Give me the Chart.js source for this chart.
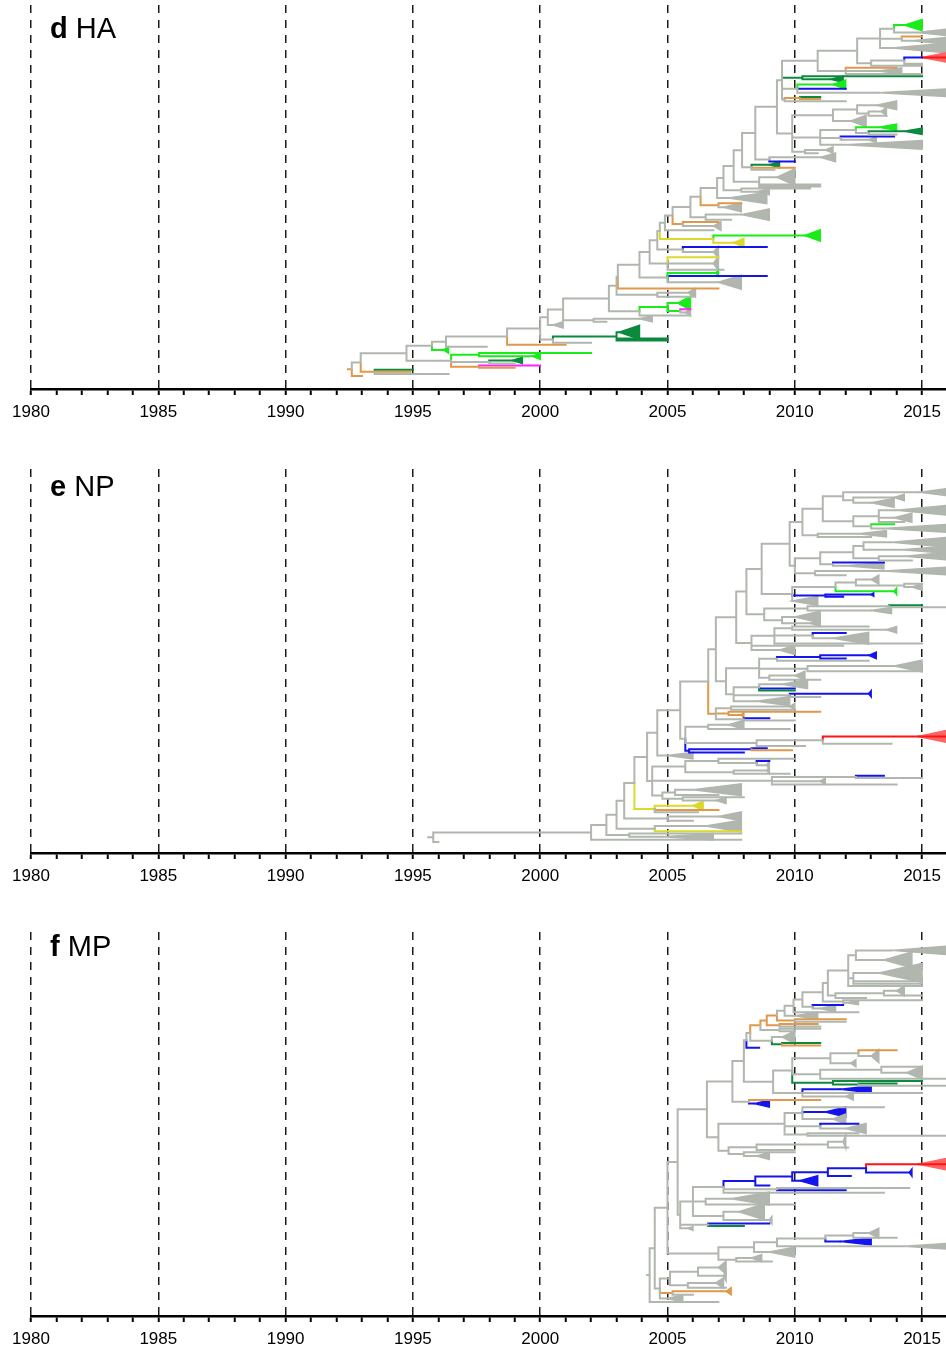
<!DOCTYPE html>
<html>
<head>
<meta charset="utf-8">
<script src="https://cdn.jsdelivr.net/npm/chart.js@4.4.1/dist/chart.umd.min.js"></script>
<style>
  html, body { margin: 0; padding: 0; background: #fff; }
  #page { position: relative; width: 946px; height: 1352px; overflow: hidden; }
  .panel { position: absolute; left: 0; width: 946px; }
  .panel canvas { display: block; }
  .tag { position: absolute; left: 50px; font-family: 'Liberation Sans', Arial, sans-serif;
         font-size: 29px; line-height: 1; color: #000; white-space: nowrap; }
  .tag b { font-weight: bold; }
</style>
</head>
<body>
<div id="page">
  <div class="panel" style="top:0px;height:464px">
    <canvas id="chartHA" width="946" height="464"></canvas>
    <div class="tag" style="top:14px"><b>d</b> HA</div>
  </div>
  <div class="panel" style="top:464px;height:463px">
    <canvas id="chartNP" width="946" height="463"></canvas>
    <div class="tag" style="top:8px"><b>e</b> NP</div>
  </div>
  <div class="panel" style="top:927px;height:425px">
    <canvas id="chartMP" width="946" height="425"></canvas>
    <div class="tag" style="top:5px"><b>f</b> MP</div>
  </div>
</div>
<script>
// Time axis
const axisMin = 1980;
const axisMax = 2015.94;
const labeledYears = [1980, 1985, 1990, 1995, 2000, 2005, 2010, 2015];

// Branch colours by lineage key
const lineageColours = {
  g: '#b1b6ae', o: '#e0984a', y: '#d9d92e', G: '#19ec19',
  D: '#0b8a3e', m: '#ff25ff', b: '#1414ee', r: '#ff1414'
};
const wedgeFills = {
  g: '#b1b6ae', o: '#e0984a', y: '#d9d92e', G: '#19ec19',
  D: '#0b8a3e', m: '#ff25ff', b: '#1414ee', r: '#ff6464'
};

// Tree notation:
//   leaf   [tipYear, colour]
//   clade  [nodeYear, colour, child, child, ...]
//   wedge  [startYear, colour, endYear, rows, fillColour?]  (collapsed clade)
// Spines list backbone nodes from the crown down to the root: [nodeYear, colour, clade below].

/* ---------------- HA ---------------- */
const haStem = 1992.45;
const haCrownUpper = [2009.5,'g',
  [2010.9,'g',
    [2012.45,'g',
      [2013.35,'g',
        [2013.9,'g', [2014.3,'G',2015.0,4], [2014.8,'g',2016.4,3]],
        [2014.2,'g', [2015.0,'o'], [2014.6,'g',2016.4,3]],
        [2013.8,'g',2016.4,4]
      ],
      [2013.0,'g',
        [2014.3,'g', [2015.0,'b',2016.4,5,'r'], [2015.0,'g']],
        [2015.0,'g']
      ]
    ],
    [2012.0,'g', [2014.0,'o'], [2013.3,'g',2014.2,2], [2015.0,'g']]
  ],
  [2010.3,'D', [2015.0,'D'], [2011.4,'D',2011.9,2]],
  [2010.1,'g', [2011.5,'G',2012.0,3], [2012.0,'b'], [2013.3,'g',2016.4,3]],
  [2009.6,'g', [2010.2,'o',[2011.0,'D'],[2011.0,'o']], [2012.0,'g']]
];
const haCrownLower = [2009.9,'g',
  [2011.5,'g',
    [2012.45,'g', [2013.2,'g',2014.0,3], [2012.9,'g',[2013.4,'g',2013.6,3],[2013.6,'g']]],
    [2012.2,'g',2012.8,4]
  ],
  [2011.0,'g',
    [2012.4,'g', [2013.3,'G',2014.0,2], [2012.9,'g',[2014.3,'D',2015.0,2],[2014.0,'g']]],
    [2011.8,'g',[2013.9,'b'],[2012.9,'g',2013.2,2]],
    [2012.0,'g',2015.0,3]
  ],
  [2010.4,'g',[2011.2,'g',2011.5,2],[2010.9,'g']]
];
const haSpine = [
  [2009.3,'g', haCrownLower],
  [2008.45,'g', [2009.0,'g',[2011.0,'g',2011.6,3],[2010.0,'b']]],
  [2007.93,'g', [2008.3,'g',[2009.0,'D',2009.4,2],[2010.0,'o'],[2009.2,'g']]],
  [2007.6,'g', [2008.6,'g',[2009.3,'g',2010.0,6],[2011.0,'g'],[2011.0,'g']]],
  [2007.2,'g', [2007.9,'g',[2010.6,'g'],[2008.5,'g',2009.0,2]]],
  [2006.95,'g', [2007.4,'g',2008.9,4]],
  [2006.3,'g', [2007.0,'o',[2007.9,'o'],[2007.2,'g',2007.9,3]]],
  [2005.9,'g', [2006.5,'g',[2007.9,'g',2009.0,4],[2007.5,'g']]],
  [2005.2,'g', [2005.6,'o',[2007.0,'o'],[2006.8,'g',2007.1,3]]],
  [2004.9,'g', [2006.8,'g']],
  [2004.7,'g', [2006.8,'y',[2010.4,'G',2011.0,4],[2007.6,'y',2008.0,3]]],
  [2004.6,'g', [2005.6,'g',[2008.9,'b'],[2006.8,'g',2007.0,4]]],
  [2004.3,'g', [2005.0,'g',[2007.0,'y'],[2006.8,'g',2007.0,5],[2007.2,'g']]],
  [2003.9,'g', [2005.0,'g',[2006.9,'G',2007.0,2],[2008.9,'b'],[2007.0,'g',2007.9,5]]],
  [2003.05,'g', [2007.0,'o']],
  [2003.0,'g', [2004.6,'g',[2005.8,'g',2006.1,3],[2006.0,'g']]],
  [2002.7,'g', [2003.9,'g',[2005.0,'G',[2005.4,'G',2005.9,5],[2005.5,'G',[2005.9,'m'],[2005.7,'g',2005.9,2]]],[2005.9,'g']]],
  [2000.9,'g', [2002.1,'g',[2003.9,'g',2004.4,2],[2002.6,'g']]],
  [2000.3,'g', [2000.5,'g',2000.9,2]],
  [2000.0,'g', [2000.5,'g',[2003.0,'D',[2003.1,'D',2003.9,5],[2005.0,'D'],[2005.0,'D']],[2002.0,'g']]],
  [1998.7,'g', [2001.0,'o']],
  [1996.3,'g', [1997.9,'g']],
  [1995.75,'g', [1996.2,'G',1996.4,2]],
  [1994.75,'g', [1996.5,'g',[1997.6,'G',[2002.0,'G'],[1999.7,'G',2000.0,2]],[1998.0,'g',[1998.9,'D',1999.3,2],[1999.0,'g']],[1997.6,'o',[2000.0,'m'],[1999.0,'o']]]],
  [1992.95,'g', [1993.5,'o',[1995.0,'D'],[1994.9,'o'],[1996.4,'g']]],
  [1992.6,'o', [1993.0,'o']]
];

/* ---------------- NP ---------------- */
const npStem = 1995.6;
const npCrownA = [2010.3,'g',
  [2011.1,'g',
    [2011.9,'g', [2014.9,'g',2016.3,3], [2012.3,'g',[2013.9,'g',2014.3,2],[2013.0,'g',2013.9,3]]],
    [2012.3,'g',
      [2013.3,'g',[2014.0,'g',2016.4,4],[2013.9,'g',2014.6,3],[2014.3,'g']],
      [2013.0,'g',[2013.9,'G'],[2013.5,'g',2016.4,3]]
    ]
  ],
  [2010.9,'g',[2012.5,'g',2013.6,2],[2013.0,'g']]
];
const npCrownB = [2010.0,'g',
  [2011.0,'g',
    [2012.3,'g',
      [2012.7,'g',[2013.8,'g',2016.4,4],[2014.2,'g',2016.4,3]],
      [2013.3,'g',[2014.3,'g',2016.4,3],[2014.6,'g']]
    ],
    [2011.5,'g',[2013.5,'b'],[2012.0,'g',2013.5,2]]
  ],
  [2010.8,'g',[2013.5,'g',2016.4,3],[2012.0,'g']]
];
const npCrown = [2009.8,'g', npCrownA, npCrownB];
const npC = [2009.9,'g',
  [2011.6,'g',
    [2012.4,'g',[2013.0,'g',2013.3,3],[2014.3,'g',[2015.0,'g'],[2014.6,'g',2015.0,2]]],
    [2011.9,'G',[2013.9,'G',2014.0,2]]
  ],
  [2011.2,'b',[2013.0,'b',2013.1,1],[2011.9,'b']],
  [2009.9,'g',2010.9,3]
];
const npD = [2008.8,'g',
  [2010.5,'g',[2013.7,'g',[2015.0,'D'],[2016.3,'g']],[2013.0,'g',2013.8,2]],
  [2009.5,'g',[2010.0,'g',2011.0,4],[2010.6,'g',2011.0,2]]
];
const npE = [2008.3,'g',
  [2009.2,'g',
    [2009.9,'g',[2012.9,'g'],[2013.6,'g',2014.0,2]],
    [2010.7,'g',[2012.0,'b'],[2011.5,'g',2012.9,4]],
    [2015.0,'g']
  ],
  [2011.9,'g'],
  [2009.4,'g',2010.0,3]
];
const npF = [2007.3,'g',
  [2008.6,'g',
    [2009.3,'g',[2011.0,'b',[2012.9,'b',2013.2,2],[2012.0,'b']],[2012.9,'g']],
    [2010.5,'g',[2013.9,'g',2015.0,4],[2015.0,'g']],
    [2009.0,'g',[2010.0,'g',2010.4,3],[2011.0,'g']]
  ],
  [2007.6,'g',
    [2008.6,'g',[2009.5,'g',2010.5,3],[2010.0,'b'],[2010.0,'D']],
    [2009.8,'g',[2011.8,'b',[2012.9,'b',2013.0,2]],[2011.0,'g']],
    [2008.5,'g',2009.8,3]
  ]
];
const npG = [2006.9,'o',
  [2007.5,'g',[2009.8,'g',2010.0,2],[2010.0,'g']],
  [2007.4,'o',[2011.0,'o'],[2007.9,'o',2008.0,2]],
  [2008.0,'g',[2009.0,'b'],[2010.0,'g']]
];
const npRed = [2005.7,'g',
  [2006.6,'g',[2007.4,'g',2008.0,3],[2009.8,'g']],
  [2008.5,'g',[2011.1,'g',[2014.85,'r',2016.4,6],[2013.8,'g']],[2010.4,'g']],
  [2005.85,'b',[2008.3,'b',[2008.9,'b'],[2009.9,'o']],[2008.0,'b']]
];
const npMid = [2004.4,'g',
  [2005.7,'g',
    [2007.0,'g',[2010.0,'g'],[2008.5,'g',[2009.0,'b'],[2008.9,'g',2009.0,3]]],
    [2007.6,'g',[2008.9,'g',2009.0,2],[2009.8,'g']]
  ],
  [2009.1,'g',[2012.4,'g',[2013.5,'b'],[2015.0,'g']],[2011.0,'g',2011.2,2],[2014.0,'g']],
  [2004.8,'g',
    [2005.3,'g',[2006.0,'g',2007.9,4],[2007.0,'g']],
    [2005.6,'g',[2008.0,'g'],[2006.9,'g',2007.3,2]]
  ]
];
const npSpine = [
  [2008.7,'g', npC],
  [2008.1,'g', npD],
  [2007.7,'g', npE],
  [2006.9,'g', npF],
  [2006.6,'g', npG],
  [2005.5,'g', npRed],
  [2004.6,'g', [2005.0,'g',2006.0,2]],
  [2004.2,'g', npMid],
  [2003.7,'g', [2004.5,'y',[2006.0,'y',2006.4,3],[2007.0,'o'],[2006.2,'g']]],
  [2003.3,'g', [2005.0,'g',[2007.0,'g',2007.9,3],[2006.0,'g']]],
  [2003.0,'g', [2004.5,'g',[2006.5,'g',2007.9,4],[2007.9,'y']]],
  [2002.6,'g', [2003.5,'g',[2007.9,'g'],[2004.8,'g',2006.8,2]]],
  [2002.0,'g', [2007.9,'g']],
  [1995.8,'g', [1996.0,'g']]
];

/* ---------------- MP ---------------- */
const mpStem = 2004.2;
const mpCrown = [2011.3,'g',
  [2012.1,'g',
    [2012.4,'g',[2013.8,'g',2016.4,3],[2013.5,'g',2014.6,5]],
    [2012.3,'g',[2013.3,'g',2015.0,6],[2015.0,'g'],[2015.0,'g']],
    [2015.0,'g']
  ],
  [2011.6,'g',[2013.5,'g',[2014.0,'g',2014.3,3],[2015.0,'g']],[2012.8,'g']]
];
const mpB = [2009.15,'g',
  [2009.9,'g',
    [2011.4,'g',[2012.5,'g',[2014.0,'o'],[2013.0,'g',2013.3,4]],[2012.2,'g',2012.4,2]],
    [2011.0,'g',[2013.4,'g',[2015.0,'g'],[2014.4,'g',2015.0,4]],[2016.3,'g']],
    [2011.5,'D',[2015.0,'D'],[2012.5,'D',[2014.0,'D'],[2016.3,'g']]]
  ],
  [2010.3,'g',[2011.8,'b',2013.0,2],[2015.0,'g'],[2012.0,'g',2012.3,2]]
];
const mpC1 = [2008.2,'g',[2011.0,'o'],[2008.4,'b',2009.0,2]];
const mpC2 = [2007.0,'g',
  [2009.6,'g',
    [2010.3,'g',[2013.5,'g'],[2011.2,'b',2012.0,3],[2011.5,'g',2012.0,3]],
    [2011.0,'g',[2012.5,'b'],[2012.0,'g',2012.8,3]],
    [2010.5,'g',[2012.5,'g'],[2016.3,'g']]
  ],
  [2007.4,'g',
    [2008.5,'g',[2011.3,'g',[2011.9,'g',2012.0,4],[2012.1,'g']],[2010.0,'g']],
    [2008.0,'g',[2010.0,'g'],[2008.5,'g',2009.0,2]]
  ]
];
const mpD = [2005.5,'g',
  [2006.0,'g',
    [2007.2,'g',
      [2008.45,'b',
        [2009.9,'b',
          [2011.3,'b',[2012.8,'b',[2014.85,'r',2016.4,5],[2014.5,'b',2014.6,2]],[2012.2,'b']],
          [2010.2,'b',2010.9,3]
        ],
        [2009.0,'b']
      ],
      [2009.3,'g',[2014.5,'g'],[2012.0,'b']],
      [2013.5,'g']
    ],
    [2006.5,'g',[2007.5,'g',2009.0,4],[2010.0,'g']],
    [2007.2,'g',[2007.8,'g',2008.8,5],[2009.0,'g',2009.1,2]]
  ],
  [2006.6,'g',[2009.0,'b'],[2008.0,'D']],
  [2005.8,'g',2006.0,1]
];
const mpE = [2007.0,'g',
  [2008.4,'g',
    [2009.3,'g',
      [2011.2,'g',[2012.3,'g',[2012.9,'g',2013.3,3],[2014.0,'g']],[2011.8,'b',2013.0,2]],
      [2014.3,'g',2016.4,2]
    ],
    [2009.0,'g',2010.0,3]
  ],
  [2007.7,'g',[2008.3,'g',2008.7,2],[2009.1,'g']]
];
const mpF = [2004.7,'g',
  [2005.1,'g',
    [2006.2,'g',[2007.0,'g',2007.3,4],[2007.2,'g',2007.3,3]],
    [2005.8,'g',[2006.9,'g',2007.2,3],[2007.3,'g']]
  ],
  [2005.2,'o',[2007.3,'o',2007.5,2],[2006.0,'g']],
  [2005.0,'g',2005.6,2]
];
const mpSpine = [
  [2011.1,'g', [2011.9,'g',[2015.0,'g'],[2012.0,'g',2012.5,1]]],
  [2010.3,'g', [2010.7,'g',[2011.9,'b'],[2011.0,'g',2011.6,2]]],
  [2009.95,'g', [2012.5,'g']],
  [2009.6,'g', [2010.0,'g',2010.9,2]],
  [2009.3,'o', [2010.0,'o',[2012.0,'o'],[2012.0,'g']]],
  [2008.9,'o', [2009.4,'o',[2010.9,'o'],[2011.0,'g']]],
  [2008.65,'o', [2009.4,'g',[2011.0,'g'],[2010.0,'g']]],
  [2008.25,'g', [2009.1,'g',[2009.5,'g',2010.0,4],[2009.5,'D',[2011.0,'D'],[2011.0,'o']]]],
  [2008.1,'g', [2008.6,'b']],
  [2008.0,'g', mpB],
  [2007.55,'g', mpC1],
  [2006.55,'g', mpC2],
  [2005.4,'g', mpD],
  [2005.0,'g', mpE],
  [2004.5,'g', mpF],
  [2004.3,'g', [2007.0,'g']]
];

/* ---------------- layout + drawing ---------------- */
function foldSpine(crown, spine) {
  return spine.reduce((node, [t, c, side]) => [t, c, node, side], crown);
}

// Rectangular tree layout: tips take successive rows, a node sits midway between its outer children.
function layoutTree(tree, stemStart) {
  const segs = {};
  const wedges = [];
  let row = 0;
  const add = (c, a, b) => {
    (segs[c] = segs[c] || []).push(a, b, { x: NaN, y: NaN });
  };
  function visit(node, parentT) {
    const t = node[0], c = node[1];
    let y;
    if (node.length === 2) {
      y = row; row += 1;
    } else if (typeof node[2] === 'number') {
      const span = node[3];
      y = row + (span - 1) / 2; row += span;
      wedges.push({ t0: t, t1: node[2], y, h: span * 0.62 + 0.25, c: node[4] || c });
    } else {
      const kids = node.slice(2);
      const ys = kids.map(k => visit(k, t));
      y = (ys[0] + ys[ys.length - 1]) / 2;
      kids.forEach((k, i) => add(k[1], { x: t, y }, { x: t, y: ys[i] }));
    }
    add(c, { x: parentT, y }, { x: t, y });
    return y;
  }
  visit(tree, stemStart);
  return { segs, wedges, rows: row };
}

const drawOrder = ['g', 'o', 'y', 'G', 'D', 'm', 'b', 'r'];

function wedgePlugin(wedges) {
  return {
    id: 'collapsedClades',
    beforeDatasetsDraw(chart) {
      const { ctx, chartArea: a, scales: { x, y } } = chart;
      ctx.save();
      ctx.beginPath();
      ctx.rect(a.left, a.top, a.right - a.left, a.bottom - a.top);
      ctx.clip();
      for (const w of wedges) {
        const x0 = x.getPixelForValue(w.t0), x1 = x.getPixelForValue(w.t1);
        const yc = y.getPixelForValue(w.y);
        const yTop = y.getPixelForValue(w.y - w.h), yBot = y.getPixelForValue(w.y + w.h);
        ctx.beginPath();
        ctx.moveTo(x0, yc);
        ctx.lineTo(x1, yTop);
        ctx.lineTo(x1, yBot);
        ctx.closePath();
        ctx.fillStyle = wedgeFills[w.c];
        ctx.strokeStyle = wedgeFills[w.c];
        ctx.lineWidth = 1.5;
        ctx.fill();
        ctx.stroke();
        if (w.c === 'r') {
          ctx.beginPath();
          ctx.moveTo(x0, yc);
          ctx.lineTo(x1, yc);
          ctx.strokeStyle = lineageColours.r;
          ctx.lineWidth = 2;
          ctx.stroke();
        }
      }
      ctx.restore();
    }
  };
}

function buildPanel(canvasId, tree, stemStart, topPx, botPx) {
  const { segs, wedges, rows } = layoutTree(tree, stemStart);
  const areaTop = 5, areaBottom = 389, areaH = areaBottom - areaTop;
  const range = (rows - 1) * areaH / (botPx - topPx);
  const yMin = -(topPx - areaTop) * range / areaH;
  const yMax = yMin + range;
  const canvas = document.getElementById(canvasId);
  const axisHeight = 34;

  const datasets = drawOrder.filter(k => segs[k]).map(k => ({
    label: k,
    data: segs[k],
    showLine: true,
    spanGaps: false,
    borderColor: lineageColours[k],
    borderWidth: 2,
    borderCapStyle: 'square',
    pointRadius: 0,
    pointHoverRadius: 0,
    tension: 0
  }));

  return new Chart(canvas, {
    type: 'scatter',
    data: { datasets },
    options: {
      responsive: false,
      maintainAspectRatio: false,
      devicePixelRatio: 1,
      animation: false,
      events: [],
      layout: { padding: { left: 31, right: 0, top: areaTop, bottom: canvas.height - areaBottom - axisHeight } },
      plugins: { legend: { display: false }, tooltip: { enabled: false } },
      scales: {
        x: {
          type: 'linear',
          position: 'bottom',
          min: axisMin,
          max: axisMax,
          z: 1,
          afterFit: s => { s.height = axisHeight; s.paddingLeft = 0; s.paddingRight = 0; },
          ticks: {
            stepSize: 1,
            autoSkip: false,
            includeBounds: false,
            maxRotation: 0,
            minRotation: 0,
            padding: 7,
            color: '#000',
            font: { family: "'Liberation Sans', Arial, sans-serif", size: 17 },
            callback: v => labeledYears.includes(v) ? String(v) : ''
          },
          grid: {
            drawOnChartArea: true,
            drawTicks: true,
            tickLength: 6,
            tickWidth: 2,
            tickColor: '#000',
            lineWidth: 1.5,
            color: c => (c.tick && labeledYears.includes(c.tick.value)) ? '#1a1a1a' : 'rgba(0,0,0,0)'
          },
          border: { display: true, color: '#000', width: 2.5, dash: [8, 7] }
        },
        y: { type: 'linear', display: false, reverse: true, min: yMin, max: yMax }
      }
    },
    plugins: [wedgePlugin(wedges)]
  });
}

buildPanel('chartHA', foldSpine(haCrownUpper, haSpine), haStem, 22, 376);
buildPanel('chartNP', foldSpine(npCrown, npSpine), npStem, 26, 378);
buildPanel('chartMP', foldSpine(mpCrown, mpSpine), mpStem, 21, 375);
</script>
</body>
</html>
